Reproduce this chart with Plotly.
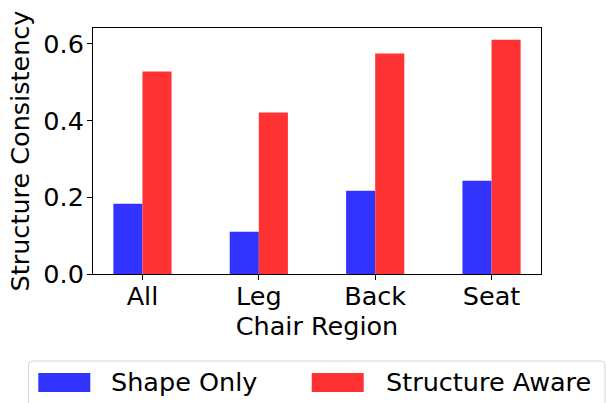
import plotly.graph_objects as go

# Structure consistency per chair region, two model variants
regions = ["All", "Leg", "Back", "Seat"]
shape_only = [0.183, 0.110, 0.217, 0.243]
structure_aware = [0.528, 0.421, 0.575, 0.611]
series_names = ["Shape Only", "Structure Aware"]
series_colors = ["rgb(51,51,255)", "rgb(255,51,51)"]
y_ticks = [0.0, 0.2, 0.4, 0.6]

W, H = 606, 403
L, R, T, B = 93, 65, 28, 129
PW, PH = W - L - R, H - T - B
FONT = "DejaVu Sans"
FS = 25.5


def px_x(px):
    return (px - L) / PW


def px_y(py):
    return (H - B - py) / PH


fig = go.Figure()
for name, vals, col in zip(series_names, [shape_only, structure_aware], series_colors):
    fig.add_trace(go.Bar(
        x=regions, y=vals, name=name,
        marker=dict(color=col, line=dict(width=0)),
        showlegend=False,
    ))

axis_common = dict(
    showline=True, linecolor="black", linewidth=1, mirror=True,
    ticks="outside", ticklen=5, tickwidth=1, tickcolor="black",
    showgrid=False, zeroline=False,
    tickfont=dict(family=FONT, size=FS, color="black"),
)

fig.update_layout(
    width=W, height=H,
    margin=dict(l=L, r=R, t=T, b=B, autoexpand=False),
    paper_bgcolor="white", plot_bgcolor="white",
    barmode="group", bargap=0.5, bargroupgap=0,
    font=dict(family=FONT, size=FS, color="black"),
    xaxis=dict(
        **axis_common,
        range=[-0.425, 3.425],
        ticklabelstandoff=-6,
        title=dict(text="Chair Region", font=dict(family=FONT, size=FS, color="black"), standoff=3),
    ),
    yaxis=dict(
        **axis_common,
        range=[0, 1.05 * max(structure_aware)],
        tickvals=y_ticks, tickformat=".1f",
        ticklabelstandoff=-2,
        title=dict(text="Structure Consistency", font=dict(family=FONT, size=FS, color="black"), standoff=6),
    ),
)

# Legend box below the axes
x0, x1, y0, y1, r = px_x(28.5), px_x(605), px_y(361), px_y(420), 4
rx, ry = r / PW, r / PH
path = (
    f"M {x0 + rx},{y0} L {x1 - rx},{y0} Q {x1},{y0} {x1},{y0 - ry} "
    f"L {x1},{y1} L {x0},{y1} L {x0},{y0 - ry} Q {x0},{y0} {x0 + rx},{y0} Z"
)
fig.add_shape(type="path", path=path, xref="paper", yref="paper",
              line=dict(color="rgb(214,214,214)", width=1), fillcolor="white", layer="above")

legend_items = [(38.3, 109), (311.7, 384)]
for (patch_x, text_x), name, col in zip(legend_items, series_names, series_colors):
    fig.add_shape(type="rect", xref="paper", yref="paper",
                  x0=px_x(patch_x), x1=px_x(patch_x + 52), y0=px_y(373), y1=px_y(392),
                  line=dict(width=0), fillcolor=col, layer="above")
    fig.add_annotation(text=name, xref="paper", yref="paper",
                       x=px_x(text_x), y=px_y(382), xanchor="left", yanchor="middle",
                       showarrow=False, font=dict(family=FONT, size=FS, color="black"))

fig.write_html("out.html")
